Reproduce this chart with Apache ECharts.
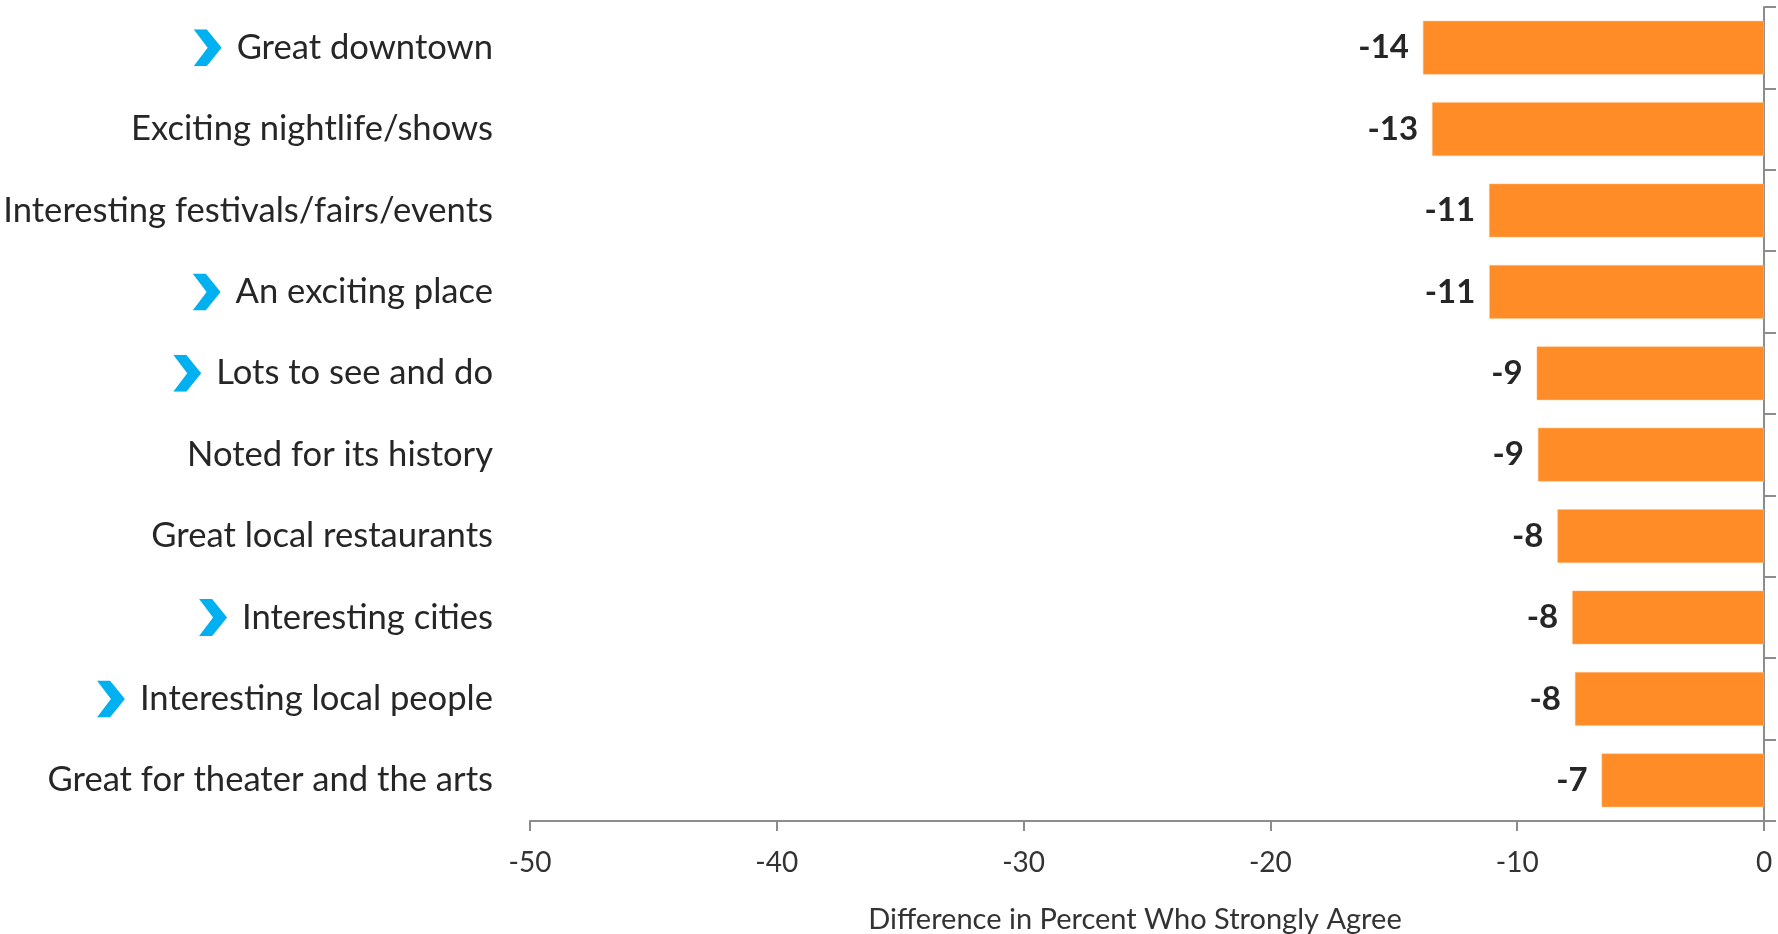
<!DOCTYPE html>
<html>
<head>
<meta charset="utf-8">
<script src="https://cdn.jsdelivr.net/npm/echarts@6/dist/echarts.min.js"></script>
<style>
html,body{margin:0;padding:0;background:#fff;}
#chart{width:1778px;height:934px;}
</style>
</head>
<body>
<div id="chart"></div>
<script>
var categories = [
  "Great downtown",
  "Exciting nightlife/shows",
  "Interesting festivals/fairs/events",
  "An exciting place",
  "Lots to see and do",
  "Noted for its history",
  "Great local restaurants",
  "Interesting cities",
  "Interesting local people",
  "Great for theater and the arts"
];
var flagged = [true, false, false, true, true, false, false, true, true, false];
var values = [-13.82, -13.45, -11.14, -11.13, -9.21, -9.16, -8.37, -7.77, -7.66, -6.58];
var xTicks = { min: -50, max: 0, interval: 10 };
var axisTitle = "Difference in Percent Who Strongly Agree";

var chevronSvg = 'data:image/svg+xml;utf8,' + encodeURIComponent(
  '<svg xmlns="http://www.w3.org/2000/svg" width="28" height="37" viewBox="0 0 28 37">' +
  '<polygon points="0,0 13,0 28,18.5 13,37 0,37 14,18.5" fill="#00B0F0"/></svg>');

var FONT = 'Lato';
var CAT_SIZE = 34.6;
var chart = echarts.init(document.getElementById('chart'));
chart.setOption({
  animation: false,
  backgroundColor: '#ffffff',
  grid: { left: 530, right: 14, top: 7, bottom: 113, containLabel: false, outerBoundsMode: 'none' },
  xAxis: {
    type: 'value',
    min: xTicks.min, max: xTicks.max, interval: xTicks.interval,
    splitLine: { show: false },
    axisLine: { show: true, lineStyle: { color: '#8c8c8c', width: 2 } },
    axisTick: { show: true, length: 10, lineStyle: { color: '#8c8c8c', width: 2 } },
    axisLabel: { color: '#333333', fontSize: 28, fontFamily: FONT, margin: 28 },
    name: axisTitle,
    nameLocation: 'middle',
    nameGap: 84,
    nameTextStyle: { color: '#333333', fontSize: 29, fontFamily: FONT, padding: [0, 24, 0, 0] }
  },
  yAxis: [{
    type: 'category',
    data: categories,
    inverse: true,
    position: 'left',
    axisLine: { show: false },
    axisTick: { show: false },
    axisLabel: {
      margin: 37,
      fontFamily: FONT,
      fontSize: CAT_SIZE,
      color: '#262626',
      formatter: function (v, i) {
        return flagged[i] ? '{arr|}{t|' + v + '}' : '{t|' + v + '}';
      },
      rich: {
        arr: { width: 28, height: 37, backgroundColor: { image: chevronSvg } },
        t: { fontFamily: FONT, fontSize: CAT_SIZE, color: '#262626', padding: [0, 0, 0, 15] }
      }
    }
  }, {
    type: 'category',
    data: categories,
    inverse: true,
    position: 'right',
    axisLine: { show: true, lineStyle: { color: '#8c8c8c', width: 2 } },
    axisTick: { show: true, length: 12, lineStyle: { color: '#8c8c8c', width: 2 } },
    axisLabel: { show: false }
  }],
  series: [{
    type: 'bar',
    data: values,
    yAxisIndex: 0,
    barWidth: '66%',
    itemStyle: { color: '#FF8C26', borderColor: '#ffc28a', borderWidth: 0.5 },
    label: {
      show: true,
      position: 'left',
      distance: 14,
      fontFamily: FONT,
      fontWeight: 'bold',
      fontSize: 33,
      color: '#262626',
      formatter: function (p) { return String(Math.round(p.value)); }
    }
  }]
});
</script>
</body>
</html>
